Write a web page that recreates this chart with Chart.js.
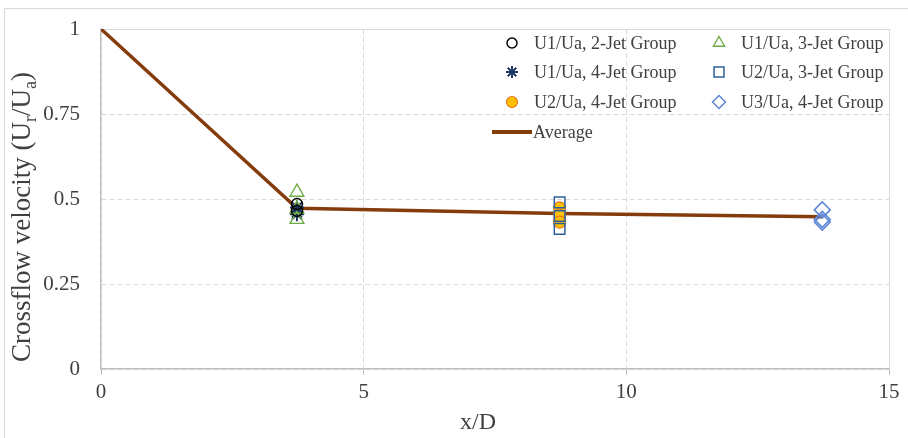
<!DOCTYPE html>
<html>
<head>
<meta charset="utf-8">
<script src="https://cdn.jsdelivr.net/npm/chart.js@4.4.0/dist/chart.umd.min.js"></script>
<style>
  html, body { margin: 0; padding: 0; background: #ffffff; }
  #wrap { position: relative; width: 908px; height: 438px; }
</style>
</head>
<body>
<div id="wrap"><canvas id="myChart" width="908" height="438"></canvas></div>
<script>
// data
var xU1 = 3.73, xU2 = 8.73, xU3 = 13.73
var u1Jet2 = [0.485, 0.465]
var u1Jet3 = [0.52, 0.47, 0.44]
var u1Jet4 = [0.475, 0.46, 0.455]
var u2Jet3 = [0.49, 0.45, 0.412]
var u2Jet4 = [0.474, 0.453, 0.432]
var u3Jet4 = [0.468, 0.44, 0.432]
var avgX = [0, 3.73, 8.73, 13.73]
var avgY = [1, 0.473, 0.457, 0.448]

var xTickLabels = ['0', '5', '10', '15']
var yTickLabels = ['0', '0.25', '0.5', '0.75', '1']

var serif = "'Liberation Serif', 'Times New Roman', serif"
var textColor = '#404040'

function pts (x, ys) {
  return ys.map(function (y) { return { x: x, y: y } })
}

var markerSets = [
  { label: 'U1/Ua, 2-Jet Group', data: pts(xU1, u1Jet2), pointStyle: 'circle', radius: 5.5, border: '#000000', fill: 'transparent', lw: 1.5, legendR: 5 },
  { label: 'U1/Ua, 3-Jet Group', data: pts(xU1, u1Jet3), pointStyle: 'triangle', radius: 8, border: '#70ad47', fill: 'transparent', lw: 1.4, legendR: 6.5 },
  { label: 'U1/Ua, 4-Jet Group', data: pts(xU1, u1Jet4), pointStyle: 'star', radius: 7, border: '#203864', fill: 'transparent', lw: 2, legendR: 6 },
  { label: 'U2/Ua, 3-Jet Group', data: pts(xU2, u2Jet3), pointStyle: 'rect', radius: 7.5, border: '#2e5f9a', fill: 'transparent', lw: 1.5, legendR: 7 },
  { label: 'U2/Ua, 4-Jet Group', data: pts(xU2, u2Jet4), pointStyle: 'circle', radius: 6, border: '#e07b22', fill: '#ffc000', lw: 1.2, legendR: 5.5 },
  { label: 'U3/Ua, 4-Jet Group', data: pts(xU3, u3Jet4), pointStyle: 'rectRot', radius: 8, border: '#5b84d6', fill: 'transparent', lw: 1.5, legendR: 6.5 }
]

var datasets = markerSets.map(function (m) {
  return {
    label: m.label,
    data: m.data,
    pointStyle: m.pointStyle,
    pointRadius: m.radius,
    pointBorderColor: m.border,
    pointBackgroundColor: m.fill,
    pointBorderWidth: m.lw,
    showLine: false,
    order: 1
  }
})

datasets.push({
  label: 'Average',
  data: avgX.map(function (x, i) { return { x: x, y: avgY[i] } }),
  showLine: true,
  borderColor: '#843c0c',
  borderWidth: 3.5,
  pointRadius: 0,
  tension: 0,
  order: 10
})

// frame lines, titles and the two column legend
var decorPlugin = {
  id: 'decor',
  beforeDatasetsDraw: function (chart) {
    var ctx = chart.ctx
    var a = chart.chartArea
    ctx.save()
    ctx.strokeStyle = '#d9d9d9'
    ctx.lineWidth = 1
    ctx.beginPath()
    ctx.moveTo(Math.round(a.left) + 0.5, Math.round(a.top) + 0.5)
    ctx.lineTo(Math.round(a.right) + 0.5, Math.round(a.top) + 0.5)
    ctx.lineTo(Math.round(a.right) + 0.5, Math.round(a.bottom))
    ctx.stroke()
    ctx.restore()
  },
  afterDraw: function (chart) {
    var ctx = chart.ctx
    ctx.save()

    // outer border
    ctx.strokeStyle = '#d9d9d9'
    ctx.lineWidth = 1
    ctx.beginPath()
    ctx.moveTo(4.5, 438)
    ctx.lineTo(4.5, 8.5)
    ctx.lineTo(908, 8.5)
    ctx.stroke()

    // x title
    ctx.fillStyle = textColor
    ctx.font = '24px ' + serif
    ctx.textAlign = 'center'
    ctx.textBaseline = 'middle'
    ctx.fillText('x/D', 478, 423)

    // y title with subscripts
    var parts = [
      ['Crossflow velocity (U', false],
      ['r', true],
      ['/U', false],
      ['a', true],
      [')', false]
    ]
    var mainFont = '27px ' + serif
    var subFont = '18px ' + serif
    var total = 0
    parts.forEach(function (p) {
      ctx.font = p[1] ? subFont : mainFont
      total += ctx.measureText(p[0]).width
    })
    ctx.translate(23, 217)
    ctx.rotate(-Math.PI / 2)
    ctx.textAlign = 'left'
    ctx.textBaseline = 'middle'
    var px = -total / 2
    parts.forEach(function (p) {
      ctx.font = p[1] ? subFont : mainFont
      ctx.fillText(p[0], px, p[1] ? 8 : 0)
      px += ctx.measureText(p[0]).width
    })
    ctx.setTransform(1, 0, 0, 1, 0, 0)

    // legend
    var colMarker = [512, 719]
    var colText = [534, 741]
    var rowY = [43, 72, 102]
    ctx.font = '18px ' + serif
    ctx.textBaseline = 'middle'
    markerSets.forEach(function (m, i) {
      var col = i % 2
      var row = Math.floor(i / 2)
      var y = rowY[row]
      ctx.strokeStyle = m.border
      ctx.fillStyle = m.fill
      ctx.lineWidth = m.lw
      Chart.helpers.drawPoint(ctx, {
        pointStyle: m.pointStyle,
        radius: m.legendR,
        rotation: 0,
        borderWidth: m.lw
      }, colMarker[col], y)
      ctx.fillStyle = textColor
      ctx.textAlign = 'left'
      ctx.fillText(m.label, colText[col], y + 1)
    })
    ctx.strokeStyle = '#843c0c'
    ctx.lineWidth = 4
    ctx.beginPath()
    ctx.moveTo(492, 132)
    ctx.lineTo(532, 132)
    ctx.stroke()
    ctx.fillStyle = textColor
    ctx.fillText('Average', 533, 133)

    ctx.restore()
  }
}

var ctx = document.getElementById('myChart').getContext('2d')
var myChart = new Chart(ctx, {
  type: 'scatter',
  data: { datasets: datasets },
  options: {
    responsive: false,
    animation: false,
    events: [],
    layout: {
      padding: { left: 0, right: 19, top: 29, bottom: 0 }
    },
    scales: {
      x: {
        type: 'linear',
        min: 0,
        max: 15,
        afterFit: function (scale) {
          scale.height = 69
          scale.paddingLeft = 0
          scale.paddingRight = 0
        },
        ticks: {
          stepSize: 5,
          padding: 5,
          color: textColor,
          font: { family: serif, size: 21 },
          maxRotation: 0,
          callback: function (v) { return xTickLabels[Math.round(v / 5)] }
        },
        grid: {
          color: '#d9d9d9',
          lineWidth: 1,
          drawTicks: true,
          tickLength: 6,
          tickColor: '#bfbfbf',
          tickBorderDash: []
        },
        border: { display: true, color: '#bfbfbf', width: 1.5, dash: [5, 3] }
      },
      y: {
        type: 'linear',
        min: 0,
        max: 1,
        afterFit: function (scale) {
          scale.width = 101
          scale.paddingTop = 0
          scale.paddingBottom = 0
        },
        ticks: {
          stepSize: 0.25,
          padding: 21,
          color: textColor,
          font: { family: serif, size: 21 },
          callback: function (v) { return yTickLabels[Math.round(v / 0.25)] }
        },
        grid: {
          color: '#d9d9d9',
          lineWidth: 1,
          drawTicks: false
        },
        border: { display: true, color: '#bfbfbf', width: 1.5, dash: [5, 3] }
      }
    },
    plugins: {
      legend: { display: false },
      tooltip: { enabled: false }
    }
  },
  plugins: [decorPlugin]
})
</script>
</body>
</html>
